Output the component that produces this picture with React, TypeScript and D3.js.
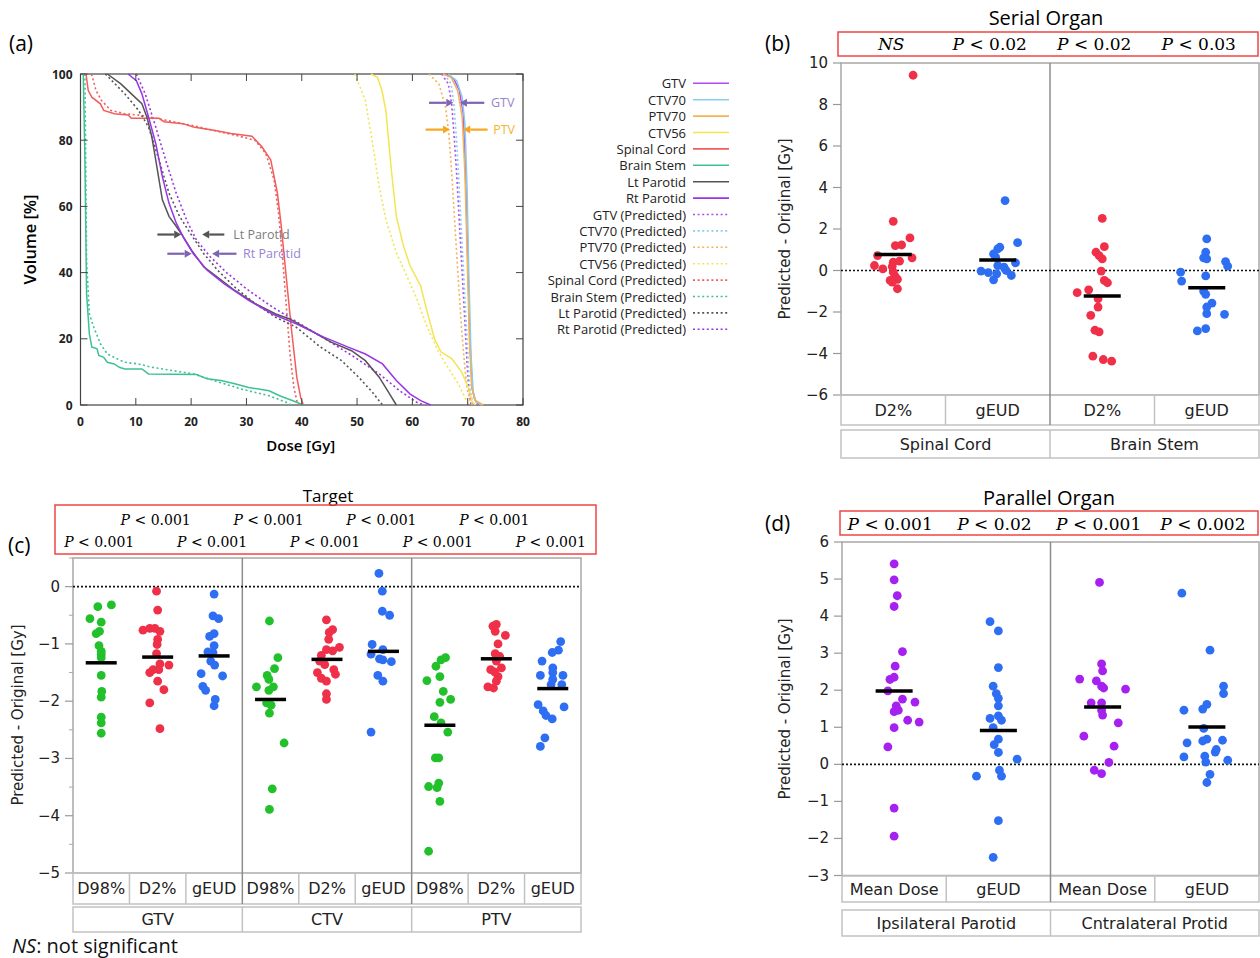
import React from 'react';
import * as d3 from 'd3';

type Pt = [number, number];

const SANS = "'Open Sans', 'DejaVu Sans', sans-serif";
const VSANS = "'DejaVu Sans', Verdana, sans-serif";
const SERIF = "'DejaVu Serif', serif";

// ================= Panel (a): DVH =================
const doseTicks = [0, 10, 20, 30, 40, 50, 60, 70, 80];
const volTicks = [0, 20, 40, 60, 80, 100];

const gtvOrig: Pt[] = [[66, 100], [67.5, 98.5], [68.5, 95], [69.2, 88], [69.6, 70], [70, 45], [70.4, 20], [70.8, 5], [71.3, 1.5], [72, 0]];
const ctv70Orig: Pt[] = [[66.5, 100], [68, 98], [69, 93], [69.5, 85], [69.9, 65], [70.2, 40], [70.6, 15], [71, 4], [71.5, 1], [72.5, 0]];
const ptv70Orig: Pt[] = [[65.5, 100], [67, 99], [68.2, 95], [69, 87], [69.5, 70], [69.9, 45], [70.3, 20], [70.7, 6], [71.3, 1.5], [72.8, 0]];
const ctv56Orig: Pt[] = [[52.5, 100], [53.7, 99], [54.5, 95], [55.2, 89], [56.2, 71], [57.1, 57], [58.4, 48], [59.6, 42], [61.5, 36], [62.7, 28], [64, 20], [65.2, 16], [67.1, 14], [68.9, 10], [70.2, 5], [70.8, 1], [71.4, 0]];
const spinalOrig: Pt[] = [[1.0, 100], [1.4, 95], [2.05, 93], [3.6, 91], [4.2, 89], [6.1, 88], [8.6, 87.6], [9.2, 86.6], [14.2, 86.6], [15.1, 85.6], [18.5, 85], [20.4, 84], [24.1, 83], [27.2, 82], [31, 81.2], [32.8, 78], [34.4, 74], [35.6, 64], [36.3, 54], [37.2, 38.6], [38.1, 23.5], [39.1, 8.4], [39.8, 2.3], [40.3, 0]];
const brainOrig: Pt[] = [[0.5, 100], [0.8, 74], [1.1, 33.6], [1.6, 21.5], [2.05, 17.5], [3.0, 17], [3.3, 15], [4.2, 14.4], [4.85, 12.9], [6.1, 12.4], [7, 11.4], [8, 10.9], [11.1, 10.9], [12.3, 9.4], [21, 9.2], [22.9, 7.9], [25.4, 7.4], [27.9, 6.4], [30.4, 5.3], [34.1, 4.3], [36, 2.8], [38.4, 1.3], [40.3, 0]];
const ltParOrig: Pt[] = [[4.85, 100], [7.3, 97], [9.2, 94], [11.1, 91], [12, 87], [12.9, 81], [13.9, 71], [14.8, 62], [16, 57], [17.3, 54], [18.5, 51], [20.1, 46.7], [22.3, 41.7], [24.8, 38.6], [27.9, 34.6], [31.6, 30.6], [35.3, 27.5], [37.8, 26], [41.6, 22.5], [45.3, 19], [49, 16.4], [51.5, 13.4], [54, 8.4], [55.9, 3.3], [57.1, 0]];
const rtParOrig: Pt[] = [[8.6, 100], [10.1, 98], [11.1, 94], [12.3, 87], [13.6, 79], [14.8, 69], [16, 61], [17.3, 55], [18.8, 50], [20.4, 45.7], [22.9, 40.7], [26, 36.6], [30.4, 31.6], [34.7, 27.5], [39, 24.5], [44, 20.5], [48.4, 17.5], [51.5, 15.4], [54.6, 12.4], [57.1, 7.4], [59.6, 3.3], [61.5, 1.3], [63.3, 0]];

const gtvPred: Pt[] = [[65.3, 100], [66.5, 97], [67.1, 91], [67.6, 80], [68.0, 70], [68.5, 55], [68.9, 43], [69.4, 28], [69.9, 12], [70.2, 5], [70.6, 0]];
const ctv70Pred: Pt[] = [[65.8, 100], [67, 97], [67.5, 91], [68, 80], [68.4, 68], [68.8, 55], [69.2, 42], [69.7, 26], [70.2, 10], [70.5, 4], [71, 0]];
const ptv70Pred: Pt[] = [[63, 100], [64.8, 97], [66, 90], [66.6, 82], [67.2, 68], [67.7, 54], [68.3, 38], [68.9, 23], [69.5, 11], [69.9, 5], [70.4, 1.5], [70.8, 0]];
const ctv56Pred: Pt[] = [[49.6, 100], [51.5, 92], [52.8, 79], [54, 66], [55.2, 56], [57.1, 46], [59, 39], [60.8, 32], [62.7, 23.5], [64.6, 16.5], [66.4, 11.4], [68.3, 6.4], [69.5, 2.3], [70.2, 0]];
const spinalPred: Pt[] = [[2, 100], [2.8, 95], [3.8, 92], [5.5, 89], [8, 88], [11, 87.5], [14, 86.5], [17, 85.5], [20, 84.5], [24, 83], [28, 81.5], [31.5, 80], [33.5, 76], [35, 68], [35.8, 58], [36.5, 45], [37.2, 30], [37.9, 15], [38.6, 5], [39.3, 0]];
const brainPred: Pt[] = [[0.8, 100], [1.1, 43.7], [1.6, 27.5], [2.4, 23.5], [3.6, 18.5], [4.85, 15.4], [6.7, 13.9], [8, 12.9], [10.5, 12.4], [12.9, 11.4], [20.4, 9.4], [24.1, 7.4], [29.1, 4.8], [34.1, 2.8], [37.2, 0.8], [38.1, 0]];
const ltParPred: Pt[] = [[4.5, 100], [8, 94], [10.5, 89], [12.3, 84], [14.2, 74], [16, 64], [17.9, 57], [19.8, 52], [22.3, 45.7], [24.8, 40.7], [27.9, 35.6], [31.6, 30.6], [35.3, 26.5], [39, 23.5], [43.4, 17.5], [47.2, 13.4], [50.3, 8.4], [52.8, 3.8], [54.6, 0]];
const rtParPred: Pt[] = [[10.1, 100], [11.7, 94], [13.6, 84], [15.4, 74], [17.3, 64], [19.2, 55.8], [21, 49.7], [23.5, 44.7], [26.6, 39.7], [30.4, 34.6], [34.7, 29.6], [39.7, 24.5], [44.7, 19.5], [49.6, 14.4], [54, 9.4], [57.7, 4.3], [60.8, 0.8], [62.1, 0]];

const structNames = ['GTV', 'CTV70', 'PTV70', 'CTV56', 'Spinal Cord', 'Brain Stem', 'Lt Parotid', 'Rt Parotid'];
const structColors = ['#b04cf2', '#86cdf0', '#f4b455', '#f3e552', '#f25c5c', '#3fc293', '#555555', '#9a34e6'];
const origCurves = [gtvOrig, ctv70Orig, ptv70Orig, ctv56Orig, spinalOrig, brainOrig, ltParOrig, rtParOrig];
const predCurves = [gtvPred, ctv70Pred, ptv70Pred, ctv56Pred, spinalPred, brainPred, ltParPred, rtParPred];

const annoLabels = ['GTV', 'PTV', 'Lt Parotid', 'Rt Parotid'];
const annoVol = [91.3, 83.2, 51.5, 45.7];
const annoLeft: Pt[] = [[63, 67.4], [62.4, 66.8], [13.9, 18.2], [15.7, 20.1]];
const annoRight: Pt[] = [[73, 68.6], [73.6, 69.2], [26, 22], [28.2, 23.8]];
const annoLabelDose = [74.2, 74.6, 27.6, 29.4];
const annoArrowColors = ['#7e62b3', '#f5a81f', '#555555', '#7e62b3'];
const annoTextColors = ['#9b82cf', '#f5b52a', '#7c7c7c', '#9a82d2'];

// ================= Panel (b): Serial organ =================
const serialSub = ['D2%', 'gEUD', 'D2%', 'gEUD'];
const serialGroups = ['Spinal Cord', 'Brain Stem'];
const serialP = ['NS', '0.02', '0.02', '0.03'];
const serialTicks = [10, 8, 6, 4, 2, 0, -2, -4, -6];
const spinalD2: Pt[] = [[9.41, 0.19], [2.37, 0], [1.57, 0.16], [1.2, 0.02], [1.23, 0.08], [0.72, -0.15], [0.61, 0.18], [0.4, 0], [0.45, 0.06], [0.24, -0.18], [0.08, -0.1], [0.19, -0.01], [-0.08, 0], [-0.29, 0.02], [-0.48, -0.03], [-0.43, 0.04], [-0.56, -0.01], [-0.88, 0.04]];
const spinalGeud: Pt[] = [[3.37, 0.07], [1.34, 0.19], [1.12, 0.02], [1.04, 0], [0.8, -0.04], [0.64, -0.02], [0.37, 0.17], [0.24, 0], [0.16, 0.06], [0.0, 0.08], [-0.03, -0.16], [-0.16, -0.01], [-0.24, 0.13], [-0.45, -0.04], [-0.1, -0.09]];
const brainD2: Pt[] = [[2.51, 0], [1.15, 0.02], [0.88, -0.06], [0.72, -0.03], [0.56, 0], [-0.03, -0.01], [-0.48, 0.02], [-0.59, 0.05], [-0.93, -0.13], [-1.07, -0.24], [-1.36, -0.04], [-1.76, -0.04], [-2.16, -0.11], [-2.88, -0.07], [-2.96, -0.03], [-4.13, -0.09], [-4.29, 0.01], [-4.37, 0.09]];
const brainGeud: Pt[] = [[1.52, 0], [0.88, -0.01], [0.61, -0.03], [0.56, 0], [0.43, 0.18], [0.21, 0.2], [-0.08, -0.25], [-0.26, -0.01], [-0.51, -0.24], [-0.99, -0.03], [-1.15, -0.01], [-1.57, 0.05], [-1.76, 0], [-2.08, 0], [-2.11, 0.17], [-2.8, -0.01], [-2.91, -0.09]];
const serialMeans = [0.77, 0.51, -1.23, -0.83];

// ================= Panel (c): Target =================
const targetSub = ['D98%', 'D2%', 'gEUD', 'D98%', 'D2%', 'gEUD', 'D98%', 'D2%', 'gEUD'];
const targetGroups = ['GTV', 'CTV', 'PTV'];
const targetP = ['0.001', '0.001', '0.001', '0.001', '0.001', '0.001', '0.001', '0.001', '0.001'];
const targetTicks = [0, -1, -2, -3, -4, -5];
const targetMinor = [0.5, -0.5, -1.5, -2.5, -3.5, -4.5];
const gtvD98: Pt[] = [[-0.35, -0.06], [-0.32, 0.18], [-0.56, -0.2], [-0.62, 0], [-0.78, -0.03], [-0.82, -0.09], [-1.03, -0.04], [-1.13, 0], [-1.18, 0], [-1.24, 0], [-1.55, 0], [-1.83, 0.01], [-1.93, 0], [-2.28, 0], [-2.38, 0], [-2.56, 0]];
const gtvD2: Pt[] = [[-0.08, -0.02], [-0.41, 0], [-0.76, -0.26], [-0.73, -0.14], [-0.73, -0.05], [-0.78, 0.04], [-0.92, 0], [-1.01, -0.01], [-1.17, -0.02], [-1.35, 0.04], [-1.37, 0.2], [-1.45, -0.08], [-1.5, -0.14], [-1.45, 0.02], [-1.65, 0], [-1.8, 0.11], [-2.03, -0.14], [-2.48, 0.04]];
const gtvGeud: Pt[] = [[-0.13, 0], [-0.51, -0.02], [-0.56, 0.08], [-0.82, 0], [-0.87, -0.08], [-1.03, 0], [-1.14, -0.11], [-1.15, -0.02], [-1.3, -0.06], [-1.37, 0.01], [-1.52, -0.23], [-1.56, 0.15], [-1.74, -0.2], [-1.81, -0.15], [-1.97, 0.02], [-2.08, 0]];
const ctvD98: Pt[] = [[-0.6, -0.02], [-1.24, 0.13], [-1.43, 0.07], [-1.55, -0.06], [-1.62, -0.03], [-1.75, 0.05], [-1.75, -0.25], [-1.81, -0.03], [-2.03, -0.07], [-2.07, 0.01], [-2.21, -0.02], [-2.73, 0.24], [-3.53, 0.03], [-3.89, -0.02]];
const ctvD2: Pt[] = [[-0.58, -0.01], [-0.75, 0.1], [-0.8, 0.04], [-0.92, 0.03], [-1.06, 0.22], [-1.1, -0.01], [-1.12, 0.1], [-1.2, -0.1], [-1.3, -0.13], [-1.36, -0.04], [-1.45, 0.12], [-1.5, -0.17], [-1.53, 0.15], [-1.6, -0.1], [-1.65, -0.01], [-1.87, -0.01], [-1.97, -0.01]];
const ctvGeud: Pt[] = [[0.23, -0.08], [-0.08, -0.02], [-0.43, -0.02], [-0.5, 0.11], [-1.01, -0.2], [-1.1, -0.01], [-1.18, -0.22], [-1.26, -0.07], [-1.28, -0.01], [-1.31, 0.14], [-1.55, -0.1], [-1.65, -0.01], [-2.54, -0.22]];
const ptvD98: Pt[] = [[-1.24, 0.1], [-1.28, 0.02], [-1.39, -0.07], [-1.64, -0.23], [-1.57, 0], [-1.83, 0.06], [-1.97, 0.19], [-2.02, 0], [-2.27, -0.1], [-2.38, 0.02], [-2.54, 0.14], [-2.99, -0.08], [-2.99, -0.02], [-3.49, -0.2], [-3.43, -0.02], [-3.51, -0.05], [-3.75, 0], [-4.62, -0.2]];
const ptvD2: Pt[] = [[-0.69, -0.06], [-0.66, 0], [-0.78, -0.02], [-0.85, 0.16], [-1.0, 0.03], [-1.17, -0.02], [-1.22, 0.06], [-1.3, 0], [-1.42, 0.09], [-1.45, -0.1], [-1.49, -0.03], [-1.57, 0.03], [-1.65, 0], [-1.75, -0.15], [-1.77, -0.05]];
const ptvGeud: Pt[] = [[-0.96, 0.14], [-1.11, 0.1], [-1.15, -0.01], [-1.3, -0.19], [-1.42, 0], [-1.5, 0], [-1.55, -0.22], [-1.55, 0.18], [-1.62, 0], [-1.71, 0.16], [-1.71, -0.03], [-2.06, -0.26], [-2.1, 0.2], [-2.17, -0.17], [-2.25, -0.12], [-2.31, -0.01], [-2.64, -0.14], [-2.79, -0.22]];
const targetMeans = [-1.33, -1.23, -1.21, -1.97, -1.27, -1.13, -2.42, -1.26, -1.78];

// ================= Panel (d): Parallel organ =================
const parallelSub = ['Mean Dose', 'gEUD', 'Mean Dose', 'gEUD'];
const parallelGroups = ['Ipsilateral Parotid', 'Cntralateral Protid'];
const parallelP = ['0.001', '0.02', '0.001', '0.002'];
const parallelTicks = [6, 5, 4, 3, 2, 1, 0, -1, -2, -3];
const ipsiMean: Pt[] = [[5.41, 0], [4.98, 0], [4.55, 0.03], [4.26, 0], [3.04, 0.08], [2.65, 0.01], [2.29, -0.04], [2.35, 0], [1.98, -0.06], [1.76, 0.08], [1.68, 0.2], [1.58, 0.02], [1.42, 0], [1.46, 0.04], [1.19, 0.13], [1.14, 0.24], [0.99, 0], [0.47, -0.06], [-1.18, 0], [-1.94, 0]];
const ipsiGeud: Pt[] = [[3.85, -0.08], [3.6, 0], [2.61, 0], [2.11, -0.05], [1.91, -0.02], [1.78, 0], [1.58, 0], [1.24, -0.08], [1.31, 0], [1.19, 0.03], [0.99, -0.05], [0.68, 0], [0.53, -0.04], [0.32, 0], [0.14, 0.18], [-0.16, 0.01], [-0.32, -0.21], [-0.32, 0.03], [-1.52, 0], [-2.51, -0.05]];
const contraMean: Pt[] = [[4.91, -0.03], [2.71, -0.01], [2.52, 0], [2.3, -0.22], [2.25, -0.06], [2.11, -0.01], [2.06, 0.01], [2.03, 0.22], [1.66, -0.11], [1.66, -0.01], [1.46, -0.01], [1.33, 0], [1.12, 0.15], [0.76, -0.18], [0.49, 0.11], [0.05, 0.06], [-0.16, -0.08], [-0.25, -0.01]];
const contraGeud: Pt[] = [[4.62, -0.24], [3.08, 0.03], [2.11, 0.16], [1.91, 0.16], [1.62, 0], [1.49, -0.04], [1.46, -0.22], [0.97, -0.03], [0.58, -0.19], [0.63, -0.04], [0.68, 0], [0.65, 0.15], [0.4, 0.09], [0.33, 0.08], [0.2, -0.22], [0.22, -0.02], [0.06, -0.01], [0.11, 0.2], [-0.27, 0.03], [-0.49, 0]];
const parallelMeans = [1.98, 0.91, 1.55, 1.01];

const RED = '#ef3048';
const BLUE = '#2d6ef2';
const GREEN = '#22c12c';
const PURPLE = '#a620f0';

const fmtTick = (v: number) => (v < 0 ? '\u2212' + Math.abs(v) : String(v));

function PLabel({ x, y, val, size }: { x: number; y: number; val: string; size: number }) {
  if (val === 'NS') {
    return (
      <text x={x} y={y} textAnchor="middle" dominantBaseline="central" fontFamily={SERIF} fontSize={size} fontStyle="italic">NS</text>
    );
  }
  return (
    <text x={x} y={y} textAnchor="middle" dominantBaseline="central" fontFamily={SERIF} fontSize={size}>
      <tspan fontStyle="italic">P</tspan>
      <tspan>{' < ' + val}</tspan>
    </text>
  );
}

function PanelA() {
  const x = d3.scaleLinear().domain([0, 80]).range([80.5, 523]);
  const y = d3.scaleLinear().domain([0, 100]).range([405, 74]);
  const line = d3.line<Pt>().x((d) => x(d[0])).y((d) => y(d[1]));
  const tl = 7;
  const legendNames = [...structNames, ...structNames.map((n) => n + ' (Predicted)')];
  const legendColors = [...structColors, ...structColors];
  return (
    <g>
      <text x={9} y={51} fontFamily={SANS} fontSize={21}>(a)</text>
      <rect x={x(0)} y={y(100)} width={x(80) - x(0)} height={y(0) - y(100)} fill="#fff" stroke="#444" strokeWidth={1.2} />
      {predCurves.map((c, i) => (
        <path key={'p' + i} d={line(c) || ''} fill="none" stroke={structColors[i]} strokeWidth={1.6} strokeDasharray="2,2.6" />
      ))}
      {origCurves.map((c, i) => (
        <path key={'o' + i} d={line(c) || ''} fill="none" stroke={structColors[i]} strokeWidth={1.5} />
      ))}
      {doseTicks.map((t) => (
        <g key={'xt' + t}>
          <line x1={x(t)} x2={x(t)} y1={y(0)} y2={y(0) - tl} stroke="#444" />
          <line x1={x(t)} x2={x(t)} y1={y(100)} y2={y(100) + tl} stroke="#444" />
          <text x={x(t)} y={y(0) + 16} textAnchor="middle" dominantBaseline="central" fontFamily={SANS} fontWeight={700} fontSize={12} fill="#222">{t}</text>
        </g>
      ))}
      {volTicks.map((t) => (
        <g key={'yt' + t}>
          <line x1={x(0)} x2={x(0) + tl} y1={y(t)} y2={y(t)} stroke="#444" />
          <line x1={x(80)} x2={x(80) - tl} y1={y(t)} y2={y(t)} stroke="#444" />
          <text x={x(0) - 8} y={y(t)} textAnchor="end" dominantBaseline="central" fontFamily={SANS} fontWeight={700} fontSize={12} fill="#222">{t}</text>
        </g>
      ))}
      <text x={x(40) - 1} y={445} textAnchor="middle" dominantBaseline="central" fontFamily={SANS} fontWeight={600} fontSize={15}>Dose [Gy]</text>
      <text transform={`translate(29,${y(50)}) rotate(-90)`} textAnchor="middle" dominantBaseline="central" fontFamily={SANS} fontWeight={600} fontSize={16.5}>Volume [%]</text>
      {annoLabels.map((lab, i) => {
        const yy = y(annoVol[i]);
        const arrows = [annoLeft[i], annoRight[i]];
        return (
          <g key={'an' + i}>
            {arrows.map((a, j) => {
              const xs = x(a[0]);
              const xe = x(a[1]);
              const dir = xe > xs ? 1 : -1;
              const hl = 7;
              return (
                <g key={j}>
                  <line x1={xs} x2={xe - dir * hl} y1={yy} y2={yy} stroke={annoArrowColors[i]} strokeWidth={2.2} />
                  <polygon points={`${xe},${yy} ${xe - dir * hl},${yy - 4} ${xe - dir * hl},${yy + 4}`} fill={annoArrowColors[i]} />
                </g>
              );
            })}
            <text x={x(annoLabelDose[i])} y={yy} dominantBaseline="central" fontFamily={SANS} fontSize={12.5} fill={annoTextColors[i]}>{lab}</text>
          </g>
        );
      })}
      {legendNames.map((n, i) => {
        const ly = 83.3 + i * 16.4;
        return (
          <g key={'lg' + i}>
            <text x={686} y={ly} textAnchor="end" dominantBaseline="central" fontFamily={SANS} fontSize={13} fill="#222">{n}</text>
            <line x1={693} x2={729} y1={ly} y2={ly} stroke={legendColors[i]} strokeWidth={1.6} strokeDasharray={i >= 8 ? '2,2.6' : undefined} />
          </g>
        );
      })}
    </g>
  );
}

interface DotPanelProps {
  x0: number; x1: number; yTop: number; yBot: number;
  domain: [number, number]; ticks: number[]; minor?: number[];
  series: Pt[][]; colors: string[]; means: number[];
  sub: string[]; groups: string[];
  row1: [number, number]; row2: [number, number];
  barW: number; r: number;
}

function DotPanel(p: DotPanelProps) {
  const y = d3.scaleLinear().domain(p.domain).range([p.yBot, p.yTop]);
  const n = p.sub.length;
  const per = n / p.groups.length;
  const band = d3.scaleBand<number>().domain(d3.range(n)).range([p.x0, p.x1]);
  const bw = band.bandwidth();
  const cx = (i: number) => (band(i) as number) + bw / 2;
  const frame = '#a8a8a8';
  const box = '#c2c2c2';
  return (
    <g>
      <rect x={p.x0} y={p.yTop} width={p.x1 - p.x0} height={p.yBot - p.yTop} fill="#fff" stroke={frame} strokeWidth={1.5} />
      {p.ticks.map((t) => (
        <g key={'t' + t}>
          <line x1={p.x0 - 8} x2={p.x0} y1={y(t)} y2={y(t)} stroke="#999" strokeWidth={1.2} />
          <text x={p.x0 - 13} y={y(t)} textAnchor="end" dominantBaseline="central" fontFamily={VSANS} fontSize={15} fill="#222">{fmtTick(t)}</text>
        </g>
      ))}
      {(p.minor || []).map((t) => (
        <line key={'m' + t} x1={p.x0 - 4} x2={p.x0} y1={y(t)} y2={y(t)} stroke="#aaa" strokeWidth={1} />
      ))}
      <rect x={p.x0} y={p.row1[0]} width={p.x1 - p.x0} height={p.row1[1] - p.row1[0]} fill="none" stroke={box} strokeWidth={1.5} />
      <rect x={p.x0} y={p.row2[0]} width={p.x1 - p.x0} height={p.row2[1] - p.row2[0]} fill="none" stroke={box} strokeWidth={1.5} />
      {d3.range(1, n).filter((i) => i % per !== 0).map((i) => (
        <line key={'s' + i} x1={band(i)} x2={band(i)} y1={p.row1[0]} y2={p.row1[1]} stroke={box} strokeWidth={1.5} />
      ))}
      {d3.range(1, p.groups.length).map((g) => (
        <g key={'g' + g}>
          <line x1={band(g * per)} x2={band(g * per)} y1={p.yTop} y2={p.row1[1]} stroke="#8c8c8c" strokeWidth={1.5} />
          <line x1={band(g * per)} x2={band(g * per)} y1={p.row2[0]} y2={p.row2[1]} stroke={box} strokeWidth={1.5} />
        </g>
      ))}
      {p.sub.map((s, i) => (
        <text key={'sl' + i} x={cx(i)} y={(p.row1[0] + p.row1[1]) / 2} textAnchor="middle" dominantBaseline="central" fontFamily={VSANS} fontSize={16} fill="#222">{s}</text>
      ))}
      {p.groups.map((g, i) => {
        const a = band(i * per) as number;
        const b = i === p.groups.length - 1 ? p.x1 : (band((i + 1) * per) as number);
        return (
          <text key={'gl' + i} x={(a + b) / 2} y={(p.row2[0] + p.row2[1]) / 2} textAnchor="middle" dominantBaseline="central" fontFamily={VSANS} fontSize={16} fill="#222">{g}</text>
        );
      })}
      <line x1={p.x0} x2={p.x1} y1={y(0)} y2={y(0)} stroke="#111" strokeWidth={1.6} strokeDasharray="2,2" />
      {p.series.map((pts, i) => (
        <g key={'pts' + i}>
          {pts.map((d, j) => (
            <circle key={j} cx={cx(i) + d[1] * bw} cy={y(d[0])} r={p.r} fill={p.colors[i]} />
          ))}
        </g>
      ))}
      {p.means.map((m, i) => (
        <line key={'mn' + i} x1={cx(i) - p.barW / 2} x2={cx(i) + p.barW / 2} y1={y(m)} y2={y(m)} stroke="#000" strokeWidth={3.5} />
      ))}
    </g>
  );
}

function PanelB() {
  const x0 = 841, x1 = 1259;
  const band = d3.scaleBand<number>().domain(d3.range(4)).range([x0, x1]);
  return (
    <g>
      <text x={1046} y={17} textAnchor="middle" dominantBaseline="central" fontFamily={SANS} fontSize={20}>Serial Organ</text>
      <text x={765} y={51} fontFamily={SANS} fontSize={21}>(b)</text>
      <rect x={838} y={32} width={420} height={24} fill="none" stroke="#f04444" strokeWidth={1.5} />
      {serialP.map((v, i) => (
        <PLabel key={i} x={(band(i) as number) + band.bandwidth() / 2 - (i === 0 ? 2 : 8)} y={44} val={v} size={17} />
      ))}
      <DotPanel x0={x0} x1={x1} yTop={63} yBot={395} domain={[-6, 10]} ticks={serialTicks}
        series={[spinalD2, spinalGeud, brainD2, brainGeud]} colors={[RED, BLUE, RED, BLUE]} means={serialMeans}
        sub={serialSub} groups={serialGroups} row1={[395, 425]} row2={[430, 458]} barW={37} r={4.4} />
      <text transform="translate(785,229) rotate(-90)" textAnchor="middle" dominantBaseline="central" fontFamily={VSANS} fontSize={15} fill="#222">Predicted - Original [Gy]</text>
    </g>
  );
}

function PanelC() {
  const x0 = 73, x1 = 581;
  const band = d3.scaleBand<number>().domain(d3.range(9)).range([x0, x1]);
  return (
    <g>
      <text x={328} y={495} textAnchor="middle" dominantBaseline="central" fontFamily={SANS} fontSize={17}>Target</text>
      <text x={8} y={553} fontFamily={SANS} fontSize={21}>(c)</text>
      <rect x={55} y={505} width={541} height={49} fill="none" stroke="#f04444" strokeWidth={1.5} />
      {targetP.map((v, i) => (
        <PLabel key={i} x={(band(i) as number) + band.bandwidth() / 2 - 2} y={i % 2 === 0 ? 542 : 520} val={v} size={14} />
      ))}
      <DotPanel x0={x0} x1={x1} yTop={558} yBot={873} domain={[-5, 0.5]} ticks={targetTicks} minor={targetMinor}
        series={[gtvD98, gtvD2, gtvGeud, ctvD98, ctvD2, ctvGeud, ptvD98, ptvD2, ptvGeud]}
        colors={[GREEN, RED, BLUE, GREEN, RED, BLUE, GREEN, RED, BLUE]} means={targetMeans}
        sub={targetSub} groups={targetGroups} row1={[873, 904]} row2={[907, 932]} barW={31} r={4.4} />
      <text transform="translate(18,715) rotate(-90)" textAnchor="middle" dominantBaseline="central" fontFamily={VSANS} fontSize={15} fill="#222">Predicted - Original [Gy]</text>
      <text x={12} y={953} fontFamily={SANS} fontSize={20} fill="#111">
        <tspan fontStyle="italic">NS</tspan>
        <tspan>: not significant</tspan>
      </text>
    </g>
  );
}

function PanelD() {
  const x0 = 842, x1 = 1259;
  const band = d3.scaleBand<number>().domain(d3.range(4)).range([x0, x1]);
  return (
    <g>
      <text x={1049} y={497} textAnchor="middle" dominantBaseline="central" fontFamily={SANS} fontSize={20}>Parallel Organ</text>
      <text x={765} y={531} fontFamily={SANS} fontSize={21}>(d)</text>
      <rect x={840} y={511} width={418} height={24} fill="none" stroke="#f04444" strokeWidth={1.5} />
      {parallelP.map((v, i) => (
        <PLabel key={i} x={(band(i) as number) + band.bandwidth() / 2 - 4} y={524} val={v} size={17} />
      ))}
      <DotPanel x0={x0} x1={x1} yTop={542} yBot={875.5} domain={[-3, 6]} ticks={parallelTicks}
        series={[ipsiMean, ipsiGeud, contraMean, contraGeud]} colors={[PURPLE, BLUE, PURPLE, BLUE]} means={parallelMeans}
        sub={parallelSub} groups={parallelGroups} row1={[876, 902]} row2={[910, 936]} barW={37} r={4.4} />
      <text transform="translate(785,709) rotate(-90)" textAnchor="middle" dominantBaseline="central" fontFamily={VSANS} fontSize={15} fill="#222">Predicted - Original [Gy]</text>
    </g>
  );
}

export default function App() {
  return (
    <svg width={1260} height={958} viewBox="0 0 1260 958" style={{ position: 'absolute', left: 0, top: 0, background: '#fff' }}>
      <rect x={0} y={0} width={1260} height={958} fill="#fff" />
      <PanelA />
      <PanelB />
      <PanelC />
      <PanelD />
    </svg>
  );
}
